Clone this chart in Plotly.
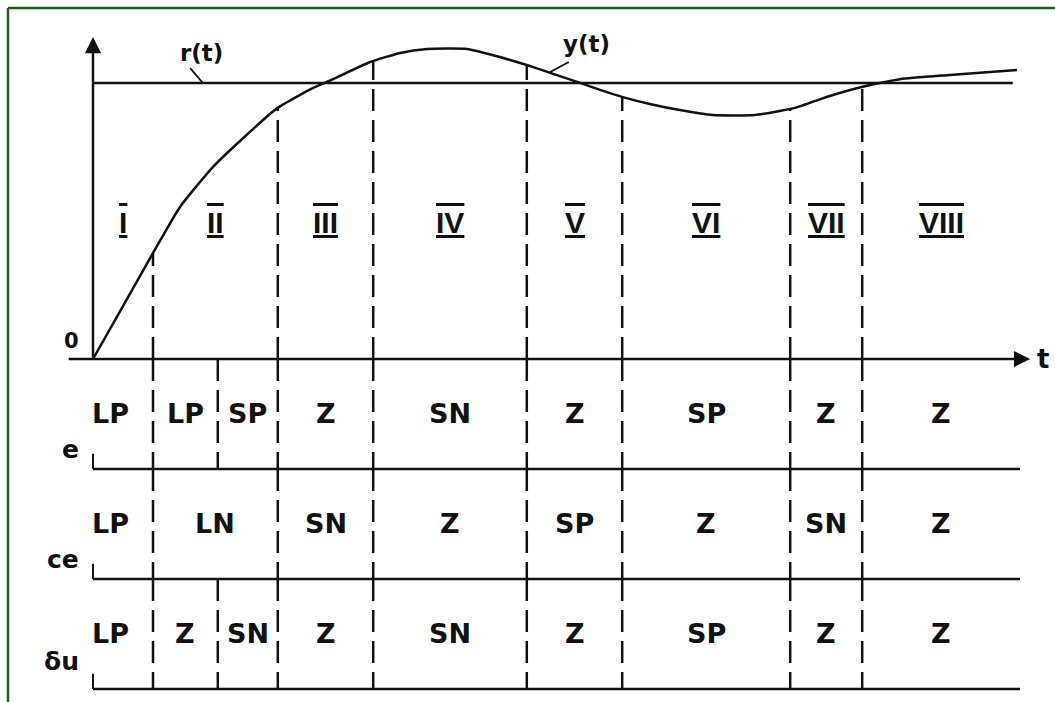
import numpy as np
import plotly.graph_objects as go

# ---- step response y(t) and reference r(t) ----
t_resp = [0.0, 0.5, 1.0, 1.45, 2.0, 2.45, 3.07, 3.45, 3.67, 4.0, 4.62, 5.12, 5.57,
          6.23, 6.78, 7.23, 7.67, 8.07, 8.45, 8.83, 9.28, 9.78, 10.33, 11.03,
          11.68, 12.28, 12.88, 13.45, 14.28, 15.4]
y_resp = [0.0, 0.192, 0.384, 0.551, 0.696, 0.790, 0.909, 0.957, 0.982, 1.014, 1.076,
          1.109, 1.123, 1.123, 1.094, 1.065, 1.033, 1.004, 0.975, 0.949, 0.924,
          0.902, 0.884, 0.884, 0.909, 0.953, 0.989, 1.014, 1.029, 1.047]
r_level = 1.0
r_end = 15.33

# ---- regions of the response ----
region_edges = [0.0, 1.0, 3.08, 4.67, 7.23, 8.82, 11.62, 12.82, 15.45]
region_names = ["I", "II", "III", "IV", "V", "VI", "VII", "VIII"]

# ---- rule table: e, ce, δu ----
table_left = -0.43
row_names = ["e", "ce", "δu"]
row_edges = [
    [table_left, 1.0, 2.08, 3.08, 4.67, 7.23, 8.82, 11.62, 12.82, 15.45],
    [table_left, 1.0, 3.08, 4.67, 7.23, 8.82, 11.62, 12.82, 15.45],
    [table_left, 1.0, 2.08, 3.08, 4.67, 7.23, 8.82, 11.62, 12.82, 15.45],
]
row_labels = [
    ["LP", "LP", "SP", "Z", "SN", "Z", "SP", "Z", "Z"],
    ["LP", "LN", "SN", "Z", "SP", "Z", "SN", "Z"],
    ["LP", "Z", "SN", "Z", "SN", "Z", "SP", "Z", "Z"],
]
row_h = 0.3985
table_right = 15.45

INK = "#111111"
FONT = "DejaVu Sans, Liberation Sans, Arial, sans-serif"
NUMFONT = "Liberation Sans, Arial, sans-serif"
DASH = "22px,9px"

fig = go.Figure()


def seg(xs, ys, width=2.5, dash=None, shape="linear"):
    fig.add_trace(go.Scatter(x=xs, y=ys, mode="lines", hoverinfo="skip",
                             line=dict(color=INK, width=width, dash=dash, shape=shape,
                                       smoothing=0.5 if shape == "spline" else None)))


def label(x, y, text, size, family=FONT, **kw):
    return dict(x=x, y=y, text=text, showarrow=False,
                font=dict(family=family, size=size, color=INK, weight="bold"), **kw)


# reference and response
seg([0, r_end], [r_level, r_level], width=2.5)
seg(t_resp, y_resp, width=2.5, shape="spline")

# region boundaries rising from the time axis to the response
for b in region_edges[1:-1]:
    seg([b, b], [0, float(np.interp(b, t_resp, y_resp))], width=2.5, dash=DASH)

# table rows: bottom rule, start tick, cell separators, labels
annotations = []
for i, (name, edges, labels) in enumerate(zip(row_names, row_edges, row_labels)):
    top = -i * row_h
    bot = -(i + 1) * row_h
    seg([0, table_right], [bot, bot], width=2.5)
    seg([0, 0], [bot, bot + 0.055], width=2)
    for b in edges[1:-1]:
        seg([b, b], [top, bot], width=2.5, dash=DASH)
    for a, b, lab in zip(edges[:-1], edges[1:], labels):
        annotations.append(label((a + b) / 2, (top + bot) / 2, lab, 27,
                                 xanchor="center", yanchor="middle"))
    annotations.append(label(-0.2, bot + (0.1 if name == "δu" else 0.07), name, 25,
                             xanchor="right", yanchor="middle"))

# region numerals with bars above and below
bar_style = "text-decoration:overline underline;text-decoration-thickness:3px"
for a, b, nm in zip(region_edges[:-1], region_edges[1:], region_names):
    annotations.append(label((a + b) / 2, 0.496, f'<span style="{bar_style}">{nm}</span>',
                             30, family=NUMFONT, xanchor="center", yanchor="middle"))

# axes with arrowheads
annotations.append(dict(x=15.62, y=0, ax=table_left, ay=0, axref="x", ayref="y",
                        xref="x", yref="y", text="", showarrow=True, arrowhead=2,
                        arrowsize=1.3, arrowwidth=2.5, arrowcolor=INK))
annotations.append(dict(x=0, y=1.167, ax=0, ay=0, axref="x", ayref="y",
                        xref="x", yref="y", text="", showarrow=True, arrowhead=2,
                        arrowsize=1.3, arrowwidth=2.5, arrowcolor=INK))

# curve labels with leaders
seg([1.62, 1.83], [1.054, 1.0], width=1.8)
seg([7.93, 7.62], [1.076, 1.040], width=1.8)
annotations += [
    label(1.8, 1.11, "r(t)", 23),
    label(8.23, 1.14, "y(t)", 23),
    label(-0.36, 0.065, "0", 21),
    label(15.7, 0.0, "t", 26, xanchor="left", yanchor="middle"),
]

# thin green frame on the top and left edges
frame = "#1d5a1d"
shapes = [
    dict(type="line", xref="paper", yref="paper", x0=8 / 1055, x1=1, y0=1 - 8 / 702,
         y1=1 - 8 / 702, line=dict(color=frame, width=2.5)),
    dict(type="line", xref="paper", yref="paper", x0=8 / 1055, x1=8 / 1055, y0=0,
         y1=1 - 8 / 702, line=dict(color=frame, width=2.5)),
]

fig.update_layout(
    width=1055, height=702,
    margin=dict(l=0, r=0, t=0, b=0),
    paper_bgcolor="white", plot_bgcolor="white",
    showlegend=False,
    xaxis=dict(range=[-93 / 60, (1055 - 93) / 60], visible=False, fixedrange=True),
    yaxis=dict(range=[(359 - 702) / 276, 359 / 276], visible=False, fixedrange=True),
    annotations=annotations,
    shapes=shapes,
)

fig.write_html("out.html")
